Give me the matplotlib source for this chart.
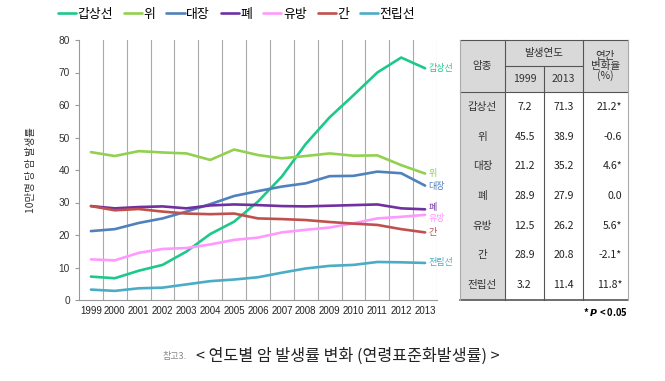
import matplotlib
matplotlib.use("Agg")
import matplotlib.pyplot as plt
from matplotlib.patches import Rectangle

plt.rcParams['font.family'] = ['Noto Sans CJK KR', 'DejaVu Sans']

years = [str(y) for y in range(1999, 2014)]

names = ["갑상선", "위", "대장", "폐", "유방", "간", "전립선"]
colors = ["#1DC98A", "#92D050", "#4F81BD", "#7030A0", "#FF99FF", "#C0504D", "#4BACC6"]

thyroid = [7.2, 6.7, 9.0, 10.8, 14.9, 20.3, 24.1, 30.3, 38.0, 48.0, 56.2, 63.0, 70.0, 74.6, 71.3]
stomach = [45.5, 44.3, 45.8, 45.4, 45.1, 43.1, 46.3, 44.6, 43.6, 44.3, 45.1, 44.4, 44.5, 41.5, 38.9]
colon = [21.2, 21.8, 23.7, 25.1, 27.2, 29.5, 32.0, 33.5, 34.9, 35.9, 38.1, 38.2, 39.5, 39.0, 35.2]
lung = [28.9, 28.2, 28.6, 28.8, 28.2, 29.1, 29.4, 29.2, 28.9, 28.8, 29.0, 29.2, 29.4, 28.2, 27.9]
breast = [12.5, 12.2, 14.5, 15.7, 16.0, 17.1, 18.5, 19.2, 20.8, 21.6, 22.3, 23.6, 25.1, 25.6, 26.2]
liver = [28.9, 27.6, 28.0, 27.2, 26.6, 26.4, 26.6, 25.1, 24.9, 24.6, 24.0, 23.5, 23.1, 21.8, 20.8]
prostate = [3.2, 2.8, 3.6, 3.8, 4.8, 5.8, 6.3, 7.0, 8.4, 9.7, 10.5, 10.8, 11.7, 11.6, 11.4]
series = [thyroid, stomach, colon, lung, breast, liver, prostate]

# end labels: (name, y position)
end_labels = [("갑상선", 71.3), ("위", 38.9), ("대장", 35.0), ("폐", 28.6),
              ("유방", 25.2), ("간", 20.8), ("전립선", 11.4)]

# table data
tbl_names = names
tbl_1999 = ["7.2", "45.5", "21.2", "28.9", "12.5", "28.9", "3.2"]
tbl_2013 = ["71.3", "38.9", "35.2", "27.9", "26.2", "20.8", "11.4"]
tbl_change = ["21.2*", "-0.6", "4.6*", "0.0", "5.6*", "-2.1*", "11.8*"]

W, H = 665, 381
fig = plt.figure(figsize=(W / 100, H / 100), dpi=100)

ax = fig.add_axes([79 / W, 1 - 300 / H, 358 / W, 260 / H])
x = list(range(len(years)))
for s, c, n in zip(series, colors, names):
    ax.plot(x, s, color=c, lw=1.9, label=n, solid_capstyle='round')

ax.set_xlim(-0.5, 14.5)
ax.set_ylim(0, 80)
ax.set_yticks(range(0, 81, 10))
ax.set_xticks(x)
ax.set_xticklabels(years, fontsize=7, family=['Liberation Sans', 'DejaVu Sans'])
ax.tick_params(axis='x', length=0, pad=4, colors='#222222')
ax.tick_params(axis='y', labelsize=7.3, length=3, color='#999999', colors='#333333')
for lbl in ax.get_yticklabels():
    lbl.set_family(['Liberation Sans', 'DejaVu Sans'])
for b in range(15):
    ax.axvline(b + 0.5, color='#aaaaaa', lw=0.8, zorder=0)
ax.spines['top'].set_visible(False)
ax.spines['right'].set_visible(False)
ax.spines['left'].set_color('#999999')
ax.spines['bottom'].set_color('#999999')
ax.set_ylabel("10만명 당 암 발생률", fontsize=7.5, color='#333333', labelpad=16)

for (n, yv), c in zip(end_labels, colors):
    ax.text(14.15, yv, n, color=c, fontsize=6.5, va='center', ha='left', clip_on=False)

fig.legend(loc='upper left', bbox_to_anchor=(50 / W, 1.0), ncol=7, frameon=False,
           fontsize=9.3, handlelength=1.4, handletextpad=0.12, columnspacing=0.85,
           borderaxespad=0.2)

# overlay in pixel coordinates for the table and caption
ov = fig.add_axes([0, 0, 1, 1], zorder=-1)
ov.set_xlim(0, W)
ov.set_ylim(H, 0)
ov.axis('off')

cols = [460, 505, 544, 583, 628]
top, mid, hbot, bot = 40, 66, 92, 300
row_h = (bot - hbot) / len(tbl_names)
gray = '#D9D9D9'
lc = '#555555'

ov.add_patch(Rectangle((cols[0], top), cols[4] - cols[0], hbot - top, fc=gray, ec='none'))
ov.add_patch(Rectangle((cols[0], hbot), cols[1] - cols[0], bot - hbot, fc=gray, ec='none'))

ov.plot([cols[0], cols[4]], [top, top], color=lc, lw=0.8)
ov.plot([cols[0], cols[4]], [hbot, hbot], color=lc, lw=0.8)
ov.plot([cols[0], cols[4]], [bot, bot], color=lc, lw=1.2)
ov.plot([cols[1], cols[3]], [mid, mid], color=lc, lw=0.8)
ov.plot([cols[0], cols[0]], [top, bot], color='#aaaaaa', lw=0.8)
ov.plot([cols[1], cols[1]], [top, bot], color=lc, lw=0.8)
ov.plot([cols[2], cols[2]], [mid, bot], color=lc, lw=0.8)
ov.plot([cols[3], cols[3]], [top, bot], color=lc, lw=0.8)
ov.plot([cols[4], cols[4]], [top, bot], color='#aaaaaa', lw=0.8)

fs = 7.6
ov.text((cols[0] + cols[1]) / 2, (top + hbot) / 2, "암종", ha='center', va='center', fontsize=fs, color='#333333')
ov.text((cols[1] + cols[3]) / 2, (top + mid) / 2, "발생연도", ha='center', va='center', fontsize=fs, color='#333333')
ov.text((cols[1] + cols[2]) / 2, (mid + hbot) / 2, "1999", ha='center', va='center', fontsize=fs, color='#333333')
ov.text((cols[2] + cols[3]) / 2, (mid + hbot) / 2, "2013", ha='center', va='center', fontsize=fs, color='#333333')
ov.text((cols[3] + cols[4]) / 2, (top + hbot) / 2, "연간\n변화율\n(%)", ha='center', va='center',
        fontsize=fs, color='#333333', linespacing=0.95)

for i in range(len(tbl_names)):
    yc = hbot + row_h * (i + 0.5)
    ov.text((cols[0] + cols[1]) / 2, yc, tbl_names[i], ha='center', va='center', fontsize=fs, color='#333333')
    ov.text((cols[1] + cols[2]) / 2, yc, tbl_1999[i], ha='center', va='center', fontsize=fs, color='#222222')
    ov.text((cols[2] + cols[3]) / 2, yc, tbl_2013[i], ha='center', va='center', fontsize=fs, color='#222222')
    ov.text(cols[4] - 6, yc, tbl_change[i], ha='right', va='center', fontsize=fs, color='#222222')

ov.text(628, 312, r"* $\boldsymbol{P}$ < 0.05", ha='right', va='center', fontsize=6.8, fontweight='bold')

ov.text(163, 356, "참고3.", ha='left', va='center', fontsize=6.5, color='#888888')
ov.text(196, 356, "< 연도별 암 발생률 변화 (연령표준화발생률) >", ha='left', va='center', fontsize=11.6, color='#222222')

fig.savefig("out.png", dpi=100)
